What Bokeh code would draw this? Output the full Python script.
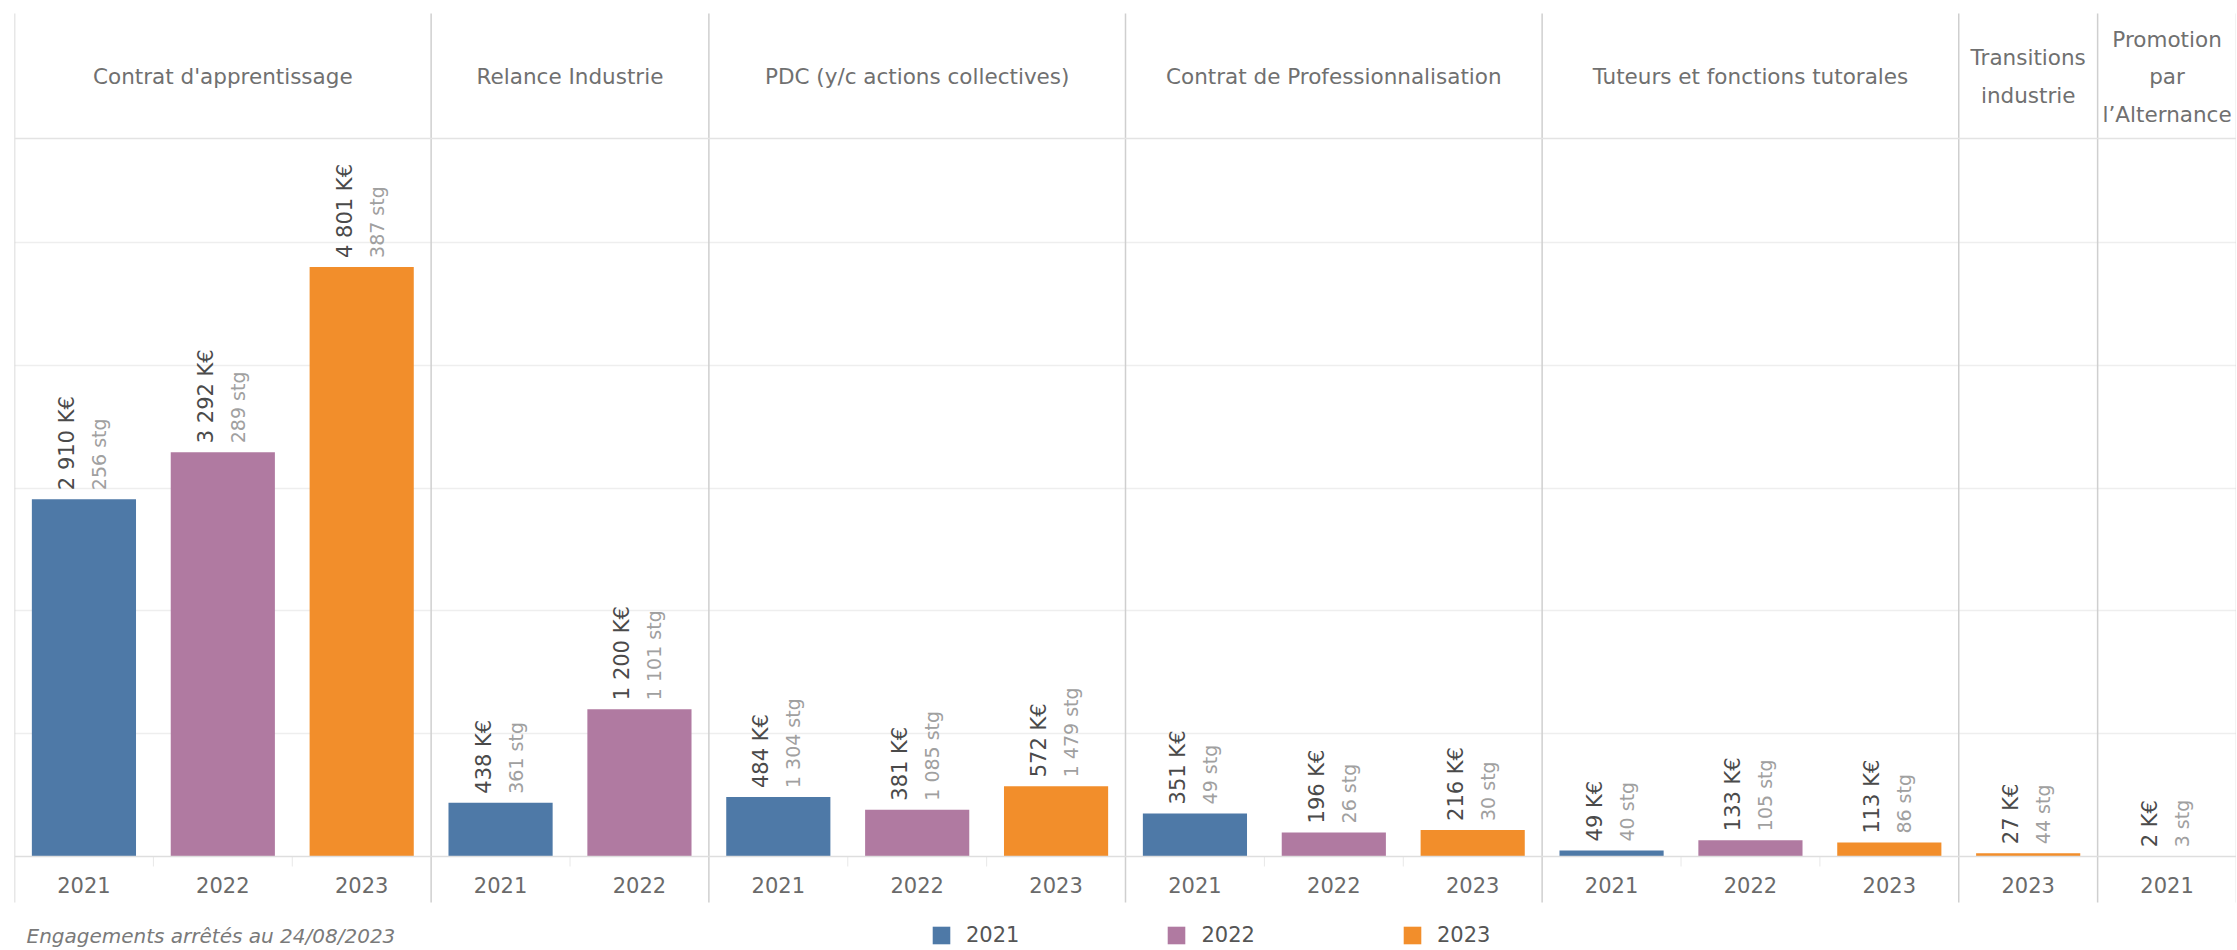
import math
import numpy as np
from bokeh.plotting import figure
from bokeh.models import ColumnDataSource, FactorRange, Range1d, FixedTicker, Span, Label
from bokeh.core.properties import value
from bokeh.transform import factor_cmap
from bokeh.embed import file_html
from bokeh.resources import INLINE

# ---------------- data ----------------
categories = [
    "Contrat d'apprentissage",
    "Relance Industrie",
    "PDC (y/c actions collectives)",
    "Contrat de Professionnalisation",
    "Tuteurs et fonctions tutorales",
    "Transitions industrie",
    "Promotion par l’Alternance",
]
header_labels = [
    "Contrat d'apprentissage",
    "Relance Industrie",
    "PDC (y/c actions collectives)",
    "Contrat de Professionnalisation",
    "Tuteurs et fonctions tutorales",
    "Transitions\nindustrie",
    "Promotion\npar\nl’Alternance",
]
years_by_category = [
    ["2021", "2022", "2023"],
    ["2021", "2022"],
    ["2021", "2022", "2023"],
    ["2021", "2022", "2023"],
    ["2021", "2022", "2023"],
    ["2023"],
    ["2021"],
]
engagements_keur = [
    [2910, 3292, 4801],
    [438, 1200],
    [484, 381, 572],
    [351, 196, 216],
    [49, 133, 113],
    [27],
    [2],
]
stagiaires = [
    [256, 289, 387],
    [361, 1101],
    [1304, 1085, 1479],
    [49, 26, 30],
    [40, 105, 86],
    [44],
    [3],
]
legend_years = ["2021", "2022", "2023"]
year_colors = ["#4e79a7", "#b07aa1", "#f28e2b"]
gridline_values = [1000, 2000, 3000, 4000, 5000]
footnote = "Engagements arrêtés au 24/08/2023"

# ---------------- helpers ----------------
def fmt(v):
    return f"{v:,}".replace(",", " ")

factors, keur, stg, yrs = [], [], [], []
for c, ys, ks, ss in zip(categories, years_by_category, engagements_keur, stagiaires):
    for y, k, s in zip(ys, ks, ss):
        factors.append((c, y))
        keur.append(k)
        stg.append(s)
        yrs.append(y)

src = ColumnDataSource(dict(
    x=factors, keur=keur, year=yrs,
    keur_text=[fmt(v) + " K€" for v in keur],
    stg_text=[fmt(v) + " stg" for v in stg],
))

# ---------------- layout ----------------
W, H = 2236, 949
S = 0.1228          # pixels per K€
BASE = 856          # baseline, px from figure top
FNAME = "DejaVu Sans"
FONT = value(FNAME)

def y_at(px_from_top):
    return (BASE - px_from_top) / S

p = figure(
    x_range=FactorRange(*factors, factor_padding=0, group_padding=0,
                        subgroup_padding=0, range_padding=0),
    y_range=Range1d(y_at(H), y_at(0)),
    width=W, height=H, output_backend="svg", toolbar_location=None,
    min_border_left=14, min_border_right=0, min_border_top=0, min_border_bottom=0,
)
p.outline_line_color = None
p.xaxis.visible = False
p.yaxis.visible = False
p.xgrid.visible = False
p.ygrid.ticker = FixedTicker(ticks=gridline_values)
p.ygrid.grid_line_color = "#eeeeee"
p.ygrid.grid_line_width = 1.5
p.background_fill_color = "white"
p.border_fill_color = "white"

# baseline & header line
p.add_layout(Span(location=0, dimension="width", line_color="#dedede", line_width=1.5))
p.add_layout(Span(location=y_at(138), dimension="width", line_color="#e3e3e3", line_width=1.5))

# panel separators
bounds = np.cumsum([0] + [len(ys) for ys in years_by_category]).astype(float)
p.segment(x0=list(bounds), x1=list(bounds), y0=y_at(13), y1=y_at(902),
          line_color="#cfcfcf", line_width=1.5)

# faint tick marks between years inside a panel
inner = [float(b) for b in range(1, len(factors)) if b not in set(bounds.tolist())]
p.segment(x0=inner, x1=inner, y0=0, y1=y_at(866),
          line_color="#e8e8e8", line_width=1)

# bars
p.vbar(x="x", top="keur", width=0.75, source=src,
       fill_color=factor_cmap("year", year_colors, legend_years),
       line_color=None, legend_field="year")

# value labels
p.text(x="x", y="keur", text="keur_text", source=src, angle=math.pi / 2,
       text_align="left", text_baseline="middle", x_offset=-17, y_offset=-9,
       text_font=FONT, text_font_size="21px", text_color="#4a4a4a")
p.text(x="x", y="keur", text="stg_text", source=src, angle=math.pi / 2,
       text_align="left", text_baseline="middle", x_offset=15, y_offset=-9,
       text_font=FONT, text_font_size="19px", text_color="#a0a0a0")

# year labels (bottom)
p.text(x="x", y=y_at(884), text="year", source=src,
       text_align="center", text_baseline="middle",
       text_font=FONT, text_font_size="21px", text_color="#6a6a6a")

# header labels
hsrc = ColumnDataSource(dict(x=categories, text=header_labels))
p.text(x="x", y=y_at(76), text="text", source=hsrc,
       text_align="center", text_baseline="middle", text_line_height=1.5,
       text_font=FONT, text_font_size="21.5px", text_color="#707070")

# footnote
p.add_layout(Label(x=12, y=2, x_units="screen", y_units="screen", text=footnote,
                   text_font=FNAME, text_font_style="italic",
                   text_font_size="20px", text_color="#7a7a7a", text_baseline="bottom"))

# legend
leg = p.legend[0]
leg.orientation = "horizontal"
leg.location = (916, 2)
leg.glyph_width = 22
leg.glyph_height = 22
leg.label_height = 22
leg.label_standoff = 14
leg.spacing = 146
leg.padding = 0
leg.margin = 0
leg.border_line_color = None
leg.background_fill_alpha = 0
leg.label_text_font = FNAME
leg.label_text_font_size = "21px"
leg.label_text_color = "#555555"

open("out.html", "w").write(file_html(p, INLINE))
